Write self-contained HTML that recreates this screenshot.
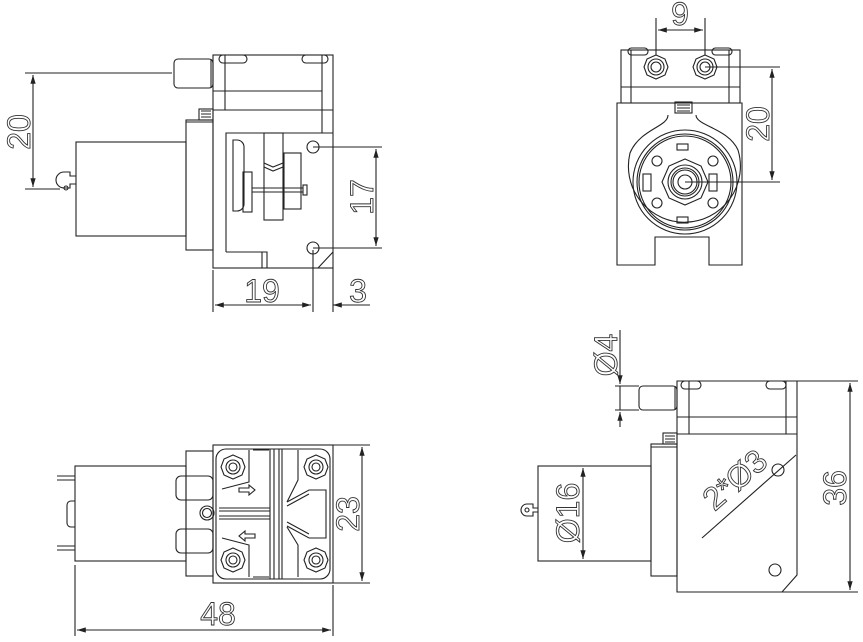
<!DOCTYPE html>
<html><head><meta charset="utf-8"><style>
html,body{margin:0;padding:0;background:#fff;width:863px;height:642px;overflow:hidden}
svg{display:block}
text{font-family:"Liberation Sans",sans-serif;font-size:32px;fill:#fff;stroke:#333;stroke-width:0.9}
</style></head><body>
<svg width="863" height="642" viewBox="0 0 863 642" xmlns="http://www.w3.org/2000/svg">
<defs>
<marker id="a" viewBox="0 0 10 6" refX="10" refY="3" markerWidth="8" markerHeight="5" orient="auto-start-reverse"><path d="M0,0L10,3L0,6z" fill="#222"/></marker>
</defs>
<g fill="none" stroke="#222" stroke-width="1.1">
<rect x="174" y="59" width="39" height="29" rx="4"/>
<line x1="211" y1="59" x2="211" y2="88"/>
<rect x="213" y="55" width="120" height="213"/>
<line x1="225" y1="55" x2="225" y2="110"/>
<line x1="322" y1="55" x2="322" y2="133"/>
<line x1="213" y1="91" x2="322" y2="91"/>
<line x1="213" y1="110" x2="333" y2="110"/>
<rect x="219" y="55" width="28" height="8" rx="4"/><rect x="302" y="55" width="26" height="8" rx="4"/>
<rect x="199" y="109" width="14" height="11"/>
<path d="M201,111h10M201,114h10M201,117h10"/>
<rect x="186" y="120" width="27" height="130"/>
<line x1="186" y1="122" x2="213" y2="122"/>
<rect x="76" y="142" width="110" height="94"/>
<path d="M76,176h-6v-4h-6a5,5 0 0 0 0,16h6v-4h6"/><circle cx="66" cy="188" r="2"/>
<path d="M226,252V133h107M226,252h41v16M262,252v16"/>
<path d="M333,252L318,268"/>
<path d="M233,140h4a7,7 0 0 1 7,7v57a7,7 0 0 1 -7,7h-4z"/>
<rect x="243" y="172" width="9" height="40"/>
<line x1="252" y1="188" x2="303" y2="188"/><line x1="252" y1="192" x2="303" y2="192"/>
<rect x="303" y="185" width="4" height="10"/>
<rect x="264" y="133" width="19" height="87"/>
<path d="M264,163l9,4l10,-4"/><path d="M264,167l9,4l10,-4"/>
<rect x="284" y="153" width="17" height="56"/>
<circle cx="313" cy="147" r="6"/><circle cx="313" cy="248" r="6"/>
<path d="M25,73H172M25,189H60"/>
<line x1="33" y1="75" x2="33" y2="187" marker-start="url(#a)" marker-end="url(#a)"/>
<path d="M313,147H382M313,248H382"/>
<line x1="376" y1="149" x2="376" y2="246" marker-start="url(#a)" marker-end="url(#a)"/>
<path d="M213,270V312M313,250V312M333,268V312"/>
<line x1="215" y1="305" x2="311" y2="305" marker-start="url(#a)" marker-end="url(#a)"/>
<line x1="335" y1="305" x2="370" y2="305"/>
<line x1="333" y1="305" x2="342" y2="305" marker-start="url(#a)"/>
<rect x="621" y="50" width="119" height="53"/>
<line x1="631" y1="50" x2="631" y2="103"/><line x1="729" y1="50" x2="729" y2="103"/>
<line x1="621" y1="87" x2="740" y2="87"/>
<rect x="628" y="48" width="20" height="7" rx="3.5"/><rect x="712" y="48" width="20" height="7" rx="3.5"/>
<polygon points="656,55 665,59 668,67 665,75 656,79 647,75 644,67 647,59"/><circle cx="656" cy="67" r="8"/><circle cx="656" cy="67" r="5"/>
<polygon points="705,55 714,59 717,67 714,75 705,79 696,75 693,67 696,59"/><circle cx="705" cy="67" r="8"/><circle cx="705" cy="67" r="5"/>
<path d="M617,103H742V265H709V237H655V265H617Z"/>
<rect x="675" y="102" width="17" height="11"/><path d="M677,105h13M677,108h13M677,111h13"/>
<path d="M668,115c0,12 -28,14 -38,38a56,56 0 1 0 108,-3c-10,-22 -42,-24 -42,-35"/>
<circle cx="685" cy="182" r="52"/><circle cx="685" cy="182" r="48"/><circle cx="685" cy="182" r="46"/>
<polygon points="685,159 701,166 708,182 701,198 685,205 669,198 662,182 669,166"/>
<circle cx="685" cy="182" r="17"/><circle cx="685" cy="182" r="14"/><circle cx="685" cy="182" r="12"/><circle cx="685" cy="182" r="7"/>
<circle cx="657" cy="161" r="5"/><circle cx="713" cy="161" r="5"/><circle cx="657" cy="203" r="5"/><circle cx="713" cy="203" r="5"/>
<rect x="643" y="174" width="8" height="17"/><rect x="709" y="174" width="8" height="17"/>
<rect x="677" y="144" width="11" height="6"/><rect x="677" y="217" width="11" height="6"/>
<path d="M656,18V55M705,18V55"/>
<line x1="658" y1="30" x2="703" y2="30" marker-start="url(#a)" marker-end="url(#a)"/>
<path d="M705,67H780M685,182H780"/>
<line x1="772" y1="69" x2="772" y2="180" marker-start="url(#a)" marker-end="url(#a)"/>
<rect x="213" y="445" width="120" height="138"/>
<rect x="216" y="449" width="114" height="130" rx="10"/>
<rect x="186" y="451" width="27" height="125"/>
<rect x="75" y="466" width="111" height="95"/>
<path d="M57,476h18M57,480h18M57,546h18M57,550h18"/>
<path d="M75,501h-4a4,4 0 0 0 -4,4v18a4,4 0 0 0 4,4h4"/>
<rect x="176" y="476" width="37" height="24" rx="5"/><rect x="176" y="529" width="37" height="24" rx="5"/>
<circle cx="207" cy="513" r="7"/><circle cx="207" cy="513" r="4.5"/>
<g>
<polygon points="233,455 242,459 245,467 242,475 233,479 224,475 221,467 224,459"/><circle cx="233" cy="467" r="7"/><circle cx="233" cy="467" r="4"/>
<polygon points="316,455 325,459 328,467 325,475 316,479 307,475 304,467 307,459"/><circle cx="316" cy="467" r="7"/><circle cx="316" cy="467" r="4"/>
<polygon points="233,548 242,552 245,560 242,568 233,572 224,568 221,560 224,552"/><circle cx="233" cy="560" r="7"/><circle cx="233" cy="560" r="4"/>
<polygon points="316,548 325,552 328,560 325,568 316,572 307,568 304,560 307,552"/><circle cx="316" cy="560" r="7"/><circle cx="316" cy="560" r="4"/>
</g>
<path d="M249,450v32l-27,7M249,577v-32l-27,-7"/>
<path d="M253,450h16M253,577h16"/>
<path d="M270,449V579M274,449V579M279,449V579M282,449V579"/>
<path d="M298,450v30l-11,22M298,577v-32l-11,-18"/>
<path d="M287,502l22,-12h17v48h-17l-22,-12"/>
<path d="M287,506l22,-12M287,522l22,12"/>
<path d="M219,508h51M219,511h51M219,516h51M219,519h51"/>
<path d="M239,488h10v-3l6,5l-6,5v-3h-10z"/>
<path d="M255,538h-10v3l-6,-5l6,-5v3h10z"/>
<path d="M333,445H370M333,583H370"/>
<line x1="362" y1="447" x2="362" y2="581" marker-start="url(#a)" marker-end="url(#a)"/>
<path d="M75,565V636M333,585V636"/>
<line x1="77" y1="630" x2="331" y2="630" marker-start="url(#a)" marker-end="url(#a)"/>
<path d="M677,381H797V575L782,592H677Z"/>
<line x1="689" y1="381" x2="689" y2="434"/><line x1="786" y1="381" x2="786" y2="434"/>
<line x1="677" y1="417" x2="797" y2="417"/><line x1="677" y1="434" x2="797" y2="434"/>
<rect x="681" y="381" width="20" height="8" rx="4"/><rect x="766" y="381" width="20" height="8" rx="4"/>
<rect x="639" y="386" width="38" height="24" rx="4"/><line x1="675" y1="386" x2="675" y2="410"/>
<rect x="663" y="433" width="14" height="11"/><path d="M665,436h10M665,439h10M665,442h10"/>
<rect x="651" y="444" width="26" height="132"/><line x1="651" y1="447" x2="677" y2="447"/>
<rect x="538" y="466" width="113" height="95"/>
<path d="M538,508h-5v-4h-6a5,5 0 0 0 0,12h6v-4h5"/><circle cx="527" cy="510" r="2"/>
<circle cx="775" cy="570" r="6"/>
<circle cx="778" cy="470" r="6"/>
<line x1="702" y1="538" x2="796" y2="455"/>
<path d="M797,381H858M782,592H858"/>
<line x1="850" y1="383" x2="850" y2="590" marker-start="url(#a)" marker-end="url(#a)"/>
<line x1="583" y1="468" x2="583" y2="559" marker-start="url(#a)" marker-end="url(#a)"/>
<path d="M615,386H639M615,410H639"/>
<line x1="620" y1="330" x2="620" y2="384" marker-end="url(#a)"/>
<line x1="620" y1="427" x2="620" y2="412" marker-end="url(#a)"/>
<line x1="620" y1="386" x2="620" y2="410"/>
</g>
<text transform="translate(30,132) rotate(-90)" text-anchor="middle">20</text>
<text transform="translate(373,197) rotate(-90)" text-anchor="middle">17</text>
<text x="262" y="302" text-anchor="middle">19</text>
<text x="358" y="302" text-anchor="middle">3</text>
<text x="680" y="25" text-anchor="middle">9</text>
<text transform="translate(769,124) rotate(-90)" text-anchor="middle">20</text>
<text transform="translate(359,514) rotate(-90)" text-anchor="middle">23</text>
<text x="218" y="625" text-anchor="middle">48</text>
<text transform="translate(846,488) rotate(-90)" text-anchor="middle">36</text>
<text transform="translate(579,513) rotate(-90)" text-anchor="middle">Ø16</text>
<text transform="translate(617,355) rotate(-90)" text-anchor="middle">Ø4</text>
<text transform="translate(742,488) rotate(-41)" text-anchor="middle">2*Ø3</text>
</svg>
</body></html>
